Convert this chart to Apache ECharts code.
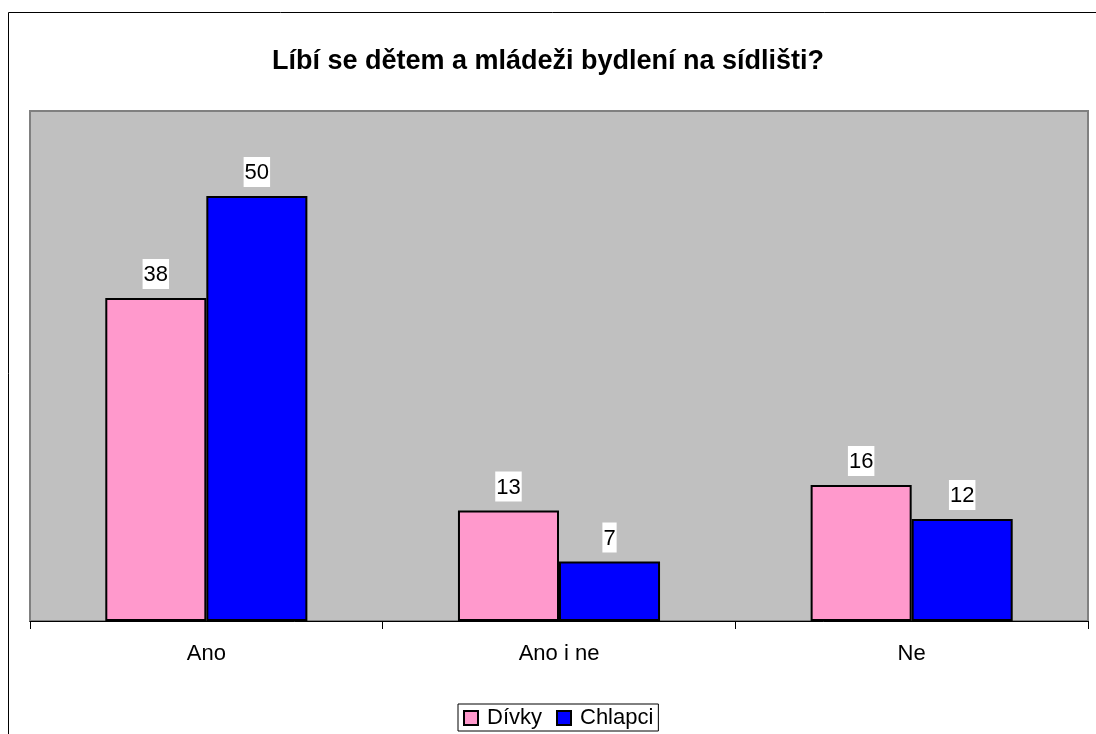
<!DOCTYPE html>
<html>
<head>
<meta charset="utf-8">
<script src="https://cdn.jsdelivr.net/npm/echarts@6/dist/echarts.min.js"></script>
<style>
  html, body { margin: 0; padding: 0; background: #fff; }
  #chart { width: 1096px; height: 734px; }
</style>
</head>
<body>
<div id="chart"></div>
<script>
var categories = ['Ano', 'Ano i ne', 'Ne'];
var divky = [38, 13, 16];
var chlapci = [50, 7, 12];

var chart = echarts.init(document.getElementById('chart'));

var labelStyle = {
    show: true,
    position: 'top',
    distance: 9,
    color: '#000',
    fontFamily: 'Liberation Sans, Arial, sans-serif',
    fontSize: 22,
    backgroundColor: '#fff',
    padding: [5, 1, 3, 1]
};

chart.setOption({
    animation: false,
    title: {
        text: 'Líbí se dětem a mládeži bydlení na sídlišti?',
        left: 'center',
        top: 43,
        textStyle: {
            fontFamily: 'Liberation Sans, Arial, sans-serif',
            fontSize: 27,
            fontWeight: 'bold',
            color: '#000'
        }
    },
    // outer chart frame (only left/top edges are visible in the reference)
    graphic: [{
        type: 'rect',
        shape: { x: 8.5, y: 12.5, width: 1200, height: 900 },
        style: { fill: 'none', stroke: '#000', lineWidth: 1 },
        silent: true
    }],
    legend: {
        bottom: 3,
        left: 458,
        data: ['Dívky', 'Chlapci'],
        icon: 'rect',
        itemWidth: 14,
        itemHeight: 14,
        itemGap: 14,
        borderColor: '#000',
        borderWidth: 1,
        padding: [3, 5, 2, 5],
        itemStyle: { borderColor: '#000', borderWidth: 2 },
        textStyle: {
            fontFamily: 'Liberation Sans, Arial, sans-serif',
            fontSize: 22,
            color: '#000',
            padding: [0, 0, 0, 4]
        }
    },
    grid: {
        left: 30,
        right: 8,
        top: 111,
        bottom: 113,
        show: true,
        backgroundColor: '#C0C0C0',
        borderColor: '#808080',
        borderWidth: 2
    },
    xAxis: {
        type: 'category',
        data: categories,
        axisLine: { lineStyle: { color: '#000', width: 1 } },
        axisTick: { show: true, length: 8, lineStyle: { color: '#000' } },
        axisLabel: {
            margin: 22,
            color: '#000',
            fontFamily: 'Liberation Sans, Arial, sans-serif',
            fontSize: 22
        }
    },
    yAxis: {
        type: 'value',
        min: 0,
        max: 60,
        show: false,
        splitLine: { show: false }
    },
    series: [{
        name: 'Dívky',
        type: 'bar',
        data: divky,
        barGap: '0%',
        barCategoryGap: '42.7%',
        itemStyle: { color: '#FF99CC', borderColor: '#000', borderWidth: 2 },
        label: labelStyle
    }, {
        name: 'Chlapci',
        type: 'bar',
        data: chlapci,
        itemStyle: { color: '#0000FF', borderColor: '#000', borderWidth: 2 },
        label: labelStyle
    }]
});
</script>
</body>
</html>
